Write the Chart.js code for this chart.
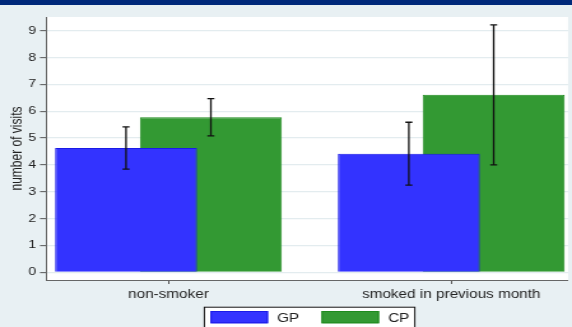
<!DOCTYPE html>
<html>
<head>
<meta charset="utf-8">
<script src="https://cdn.jsdelivr.net/npm/chart.js@4"></script>
<style>
  html, body { margin: 0; padding: 0; background: #e8f0f3; overflow: hidden; }
  canvas { display: block; }
</style>
</head>
<body>
<canvas id="c" width="449" height="327" style="width:572px;height:327px"></canvas>
<script>
// Mean number of visits by smoking status, with confidence intervals
const categories = ['non-smoker', 'smoked in previous month'];
const seriesNames = ['GP', 'CP'];
const gpMean = [4.63, 4.42];
const gpLow  = [3.84, 3.25];
const gpHigh = [5.42, 5.59];
const cpMean = [5.78, 6.61];
const cpLow  = [5.08, 4.00];
const cpHigh = [6.47, 9.22];
const yTicks = [0, 1, 2, 3, 4, 5, 6, 7, 8, 9];

const FONT = '"Liberation Sans", Arial, Helvetica, sans-serif';
const TEXT = '#222';

// page background, top band and white plot region
const backdrop = {
  id: 'backdrop',
  beforeDraw(chart) {
    const { ctx, chartArea: a, width, height } = chart;
    ctx.save();
    ctx.fillStyle = '#e8f0f3';
    ctx.fillRect(0, 0, width, height);
    ctx.fillStyle = '#00297a';
    ctx.fillRect(0, 0, width, 5);
    ctx.fillStyle = '#ffffff';
    ctx.fillRect(a.left, a.top, a.right - a.left, a.bottom - a.top);
    ctx.restore();
  }
};

// capped interval lines on top of each bar
const errorBars = {
  id: 'errorBars',
  afterDatasetsDraw(chart) {
    const { ctx } = chart;
    const yScale = chart.scales.y;
    const cap = 2.75;
    ctx.save();
    ctx.strokeStyle = '#111';
    ctx.lineWidth = 1.3;
    chart.data.datasets.forEach((ds, d) => {
      chart.getDatasetMeta(d).data.forEach((bar, i) => {
        const x = bar.x;
        const y1 = yScale.getPixelForValue(ds.errLow[i]);
        const y2 = yScale.getPixelForValue(ds.errHigh[i]);
        ctx.beginPath();
        ctx.moveTo(x, y1); ctx.lineTo(x, y2);
        ctx.moveTo(x - cap, y1); ctx.lineTo(x + cap, y1);
        ctx.moveTo(x - cap, y2); ctx.lineTo(x + cap, y2);
        ctx.stroke();
      });
    });
    ctx.restore();
  }
};

// boxed legend below the axis
const boxLegend = {
  id: 'boxLegend',
  afterDraw(chart) {
    const { ctx, chartArea: a } = chart;
    const boxW = 166.2, top = 306.7;
    const left = (a.left + a.right) / 2 - boxW / 2 + 2;
    const swW = 45.2, swH = 12.3, gapText = 7.1, gapItem = 17.5;
    ctx.save();
    ctx.fillStyle = '#ffffff';
    ctx.fillRect(left, top, boxW, 40);
    ctx.strokeStyle = '#111';
    ctx.lineWidth = 1;
    ctx.strokeRect(left + 0.5, top + 0.5, boxW - 1, 40);
    ctx.font = '12px ' + FONT;
    ctx.textBaseline = 'alphabetic';
    let x = left + 5.3;
    chart.data.datasets.forEach(ds => {
      ctx.fillStyle = ds.backgroundColor;
      ctx.fillRect(x, top + 4.3, swW, swH);
      ctx.strokeStyle = ds.borderColor;
      ctx.strokeRect(x + 0.5, top + 4.8, swW - 1, swH - 1);
      x += swW + gapText;
      ctx.fillStyle = TEXT;
      ctx.fillText(ds.label, x, top + 15.5);
      x += ctx.measureText(ds.label).width + gapItem;
    });
    ctx.restore();
  }
};

const toPoints = vals => vals.map((v, i) => ({ x: i, y: v }));

new Chart(document.getElementById('c'), {
  type: 'bar',
  data: {
    datasets: [
      {
        label: seriesNames[0],
        data: toPoints(gpMean),
        errLow: gpLow, errHigh: gpHigh,
        backgroundColor: '#3333ff',
        borderColor: '#1a1ae6',
        borderWidth: 1
      },
      {
        label: seriesNames[1],
        data: toPoints(cpMean),
        errLow: cpLow, errHigh: cpHigh,
        backgroundColor: '#339933',
        borderColor: '#1e8a1e',
        borderWidth: 1
      }
    ]
  },
  options: {
    responsive: false,
    animation: false,
    devicePixelRatio: 1,
    layout: { padding: { top: 17, right: 3.1, left: 0, bottom: 0 } },
    // overlapping bars: each bar is wider than its slot in the group
    datasets: { bar: { grouped: true, categoryPercentage: 0.6, barPercentage: 1.673 } },
    plugins: {
      legend: { display: false },
      title: { display: false },
      tooltip: { enabled: false }
    },
    scales: {
      x: {
        type: 'linear',
        offset: false,
        min: -0.433,
        max: 1.413,
        afterBuildTicks: s => { s.ticks = categories.map((_, i) => ({ value: i })); },
        afterFit: s => { s.height = 47; },
        grid: { offset: false, drawOnChartArea: false, drawTicks: true, tickLength: 4, tickColor: '#555', tickWidth: 1 },
        border: { display: true, color: '#666', width: 1 },
        ticks: {
          callback: v => categories[v],
          font: { family: FONT, size: 12 },
          color: TEXT,
          padding: 3,
          maxRotation: 0,
          autoSkip: false
        }
      },
      y: {
        type: 'linear',
        min: -0.287,
        max: 9.51,
        afterBuildTicks: s => { s.ticks = yTicks.map(v => ({ value: v })); },
        afterFit: s => { s.width = 36.1; },
        grid: { color: '#e3ecef', lineWidth: 1.3, drawTicks: true, tickLength: 4.7, tickColor: '#555', tickWidth: 1 },
        border: { display: true, color: '#666', width: 1 },
        ticks: {
          font: { family: FONT, size: 11 },
          color: TEXT,
          padding: 3
        },
        title: {
          display: true,
          text: 'number of visits',
          font: { family: FONT, size: 12 },
          color: TEXT,
          padding: { top: 6, bottom: 0 }
        }
      }
    }
  },
  plugins: [backdrop, errorBars, boxLegend]
});
</script>
</body>
</html>
